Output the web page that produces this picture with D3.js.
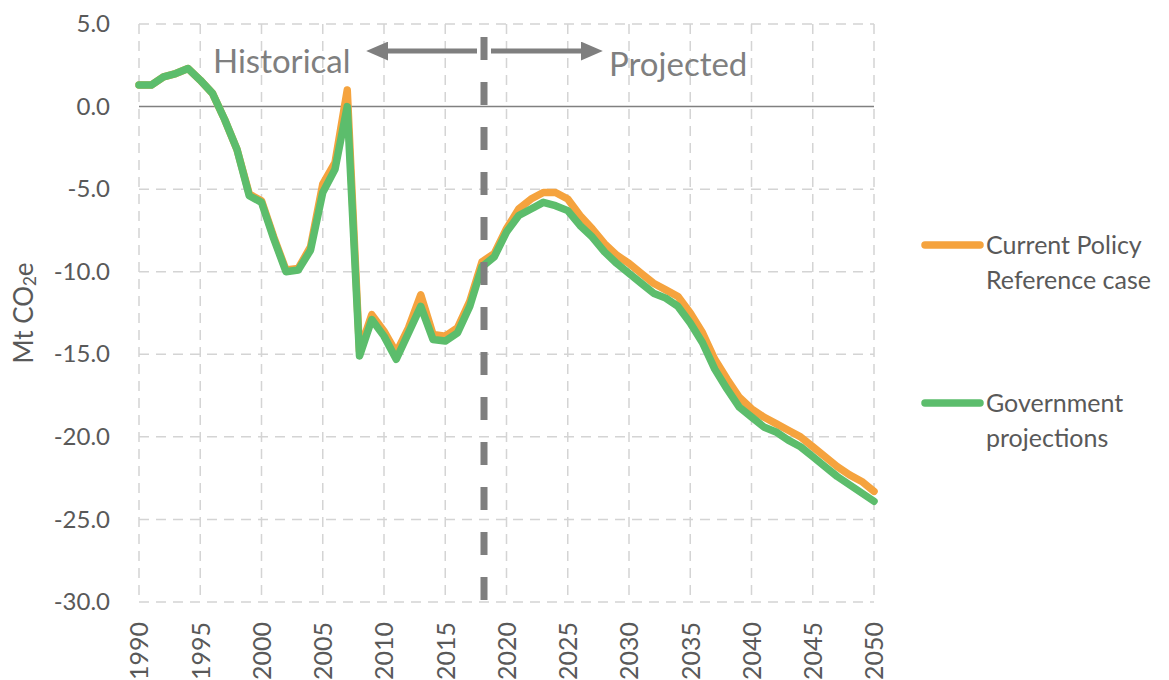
<!DOCTYPE html>
<html>
<head>
<meta charset="utf-8">
<script src="https://cdn.jsdelivr.net/npm/d3@7"></script>
<style>
  body { margin: 0; background: #ffffff; }
  svg { font-family: Lato, 'Open Sans', sans-serif; }
</style>
</head>
<body>
<svg id="canvas"></svg>
<script>

// Years on the x axis.
var years = [
  1990, 1991, 1992, 1993, 1994, 1995, 1996, 1997, 1998, 1999,
  2000, 2001, 2002, 2003, 2004, 2005, 2006, 2007, 2008, 2009,
  2010, 2011, 2012, 2013, 2014, 2015, 2016, 2017, 2018, 2019,
  2020, 2021, 2022, 2023, 2024, 2025, 2026, 2027, 2028, 2029,
  2030, 2031, 2032, 2033, 2034, 2035, 2036, 2037, 2038, 2039,
  2040, 2041, 2042, 2043, 2044, 2045, 2046, 2047, 2048, 2049,
  2050
];

// Current Policy Reference case (Mt CO2e).
var currentPolicy = [
  1.3, 1.3, 1.8, 2.0, 2.3, 1.6, 0.8, -0.8, -2.6, -5.3,
  -5.7, -7.9, -9.9, -9.8, -8.5, -4.7, -3.4, 1.0, -14.8, -12.6,
  -13.6, -14.9, -13.4, -11.4, -13.8, -13.9, -13.4, -11.8, -9.4, -8.9,
  -7.4, -6.2, -5.6, -5.2, -5.2, -5.6, -6.6, -7.4, -8.3, -9.0,
  -9.5, -10.1, -10.7, -11.1, -11.5, -12.5, -13.7, -15.3, -16.5, -17.6,
  -18.3, -18.8, -19.2, -19.6, -20.0, -20.6, -21.2, -21.8, -22.3, -22.7,
  -23.3
];

// Government projections (Mt CO2e).
var governmentProj = [
  1.3, 1.3, 1.8, 2.0, 2.3, 1.6, 0.8, -0.8, -2.6, -5.4,
  -5.8, -8.0, -10.0, -9.9, -8.7, -5.2, -3.8, 0.0, -15.1, -12.9,
  -13.9, -15.3, -13.7, -12.1, -14.1, -14.2, -13.7, -12.1, -9.7, -9.1,
  -7.6, -6.6, -6.2, -5.8, -6.0, -6.3, -7.2, -7.9, -8.8, -9.5,
  -10.1, -10.7, -11.3, -11.6, -12.1, -13.1, -14.3, -15.9, -17.1, -18.2,
  -18.8, -19.4, -19.7, -20.2, -20.6, -21.2, -21.8, -22.4, -22.9, -23.4,
  -23.9
];

// Axis ticks.
var xTicks = [1990, 1995, 2000, 2005, 2010, 2015, 2020, 2025, 2030, 2035, 2040, 2045, 2050];
var yTicks = [5, 0, -5, -10, -15, -20, -25, -30];

// Series names and legend labels.
var seriesNames = ['Current Policy Reference case', 'Government projections'];
var legendLines = [['Current Policy', 'Reference case'], ['Government', 'projections']];

// Year splitting historical and projected data.
var splitYear = 2018;

// Canvas and graph settings.
var canvas = {
  dim: { w: 1169, h: 680 },
  plot: { left: 139, right: 874, top: 24, bottom: 602 },
  colours: {
    orange: '#F5A33E',
    green: '#5CBD6C',
    grid: '#D4D4D4',
    axis: '#808080',
    text: '#595959',
    note: '#7F7F7F'
  }
};

// SVG canvas.
var svg = d3.select('#canvas')
            .attr('width', canvas.dim.w)
            .attr('height', canvas.dim.h);

// Scales.
var x = d3.scaleLinear()
          .domain([1990, 2050])
          .range([canvas.plot.left, canvas.plot.right]);

var y = d3.scaleLinear()
          .domain([-30, 5])
          .range([canvas.plot.bottom, canvas.plot.top]);

// Tick format with a plain hyphen for negatives.
var fmt = function(d) {
  return d3.format('.1f')(d).replace('\u2212', '-');
};

// Horizontal grid lines.
svg.append('g')
   .selectAll('line')
   .data(yTicks.filter(function(d) { return d !== 0; }))
   .enter()
   .append('line')
   .attr('x1', x(1990))
   .attr('x2', x(2050))
   .attr('y1', function(d) { return y(d); })
   .attr('y2', function(d) { return y(d); })
   .attr('stroke', canvas.colours.grid)
   .attr('stroke-width', 1.5)
   .attr('stroke-dasharray', '10,7');

// Vertical grid lines.
svg.append('g')
   .selectAll('line')
   .data(xTicks)
   .enter()
   .append('line')
   .attr('x1', function(d) { return x(d); })
   .attr('x2', function(d) { return x(d); })
   .attr('y1', y(5))
   .attr('y2', y(-30))
   .attr('stroke', canvas.colours.grid)
   .attr('stroke-width', 1.5)
   .attr('stroke-dasharray', '10,7');

// Zero line.
svg.append('line')
   .attr('x1', x(1990))
   .attr('x2', x(2050))
   .attr('y1', y(0))
   .attr('y2', y(0))
   .attr('stroke', canvas.colours.axis)
   .attr('stroke-width', 1.5);

// Y axis labels.
var yAxis = d3.axisLeft(y)
              .tickValues(yTicks)
              .tickSize(0)
              .tickPadding(29)
              .tickFormat(fmt);

var yAxisG = svg.append('g')
                .attr('transform', 'translate(' + canvas.plot.left + ',0)')
                .call(yAxis);

yAxisG.select('.domain').remove();
yAxisG.selectAll('text')
      .attr('font-family', 'Lato, sans-serif')
      .attr('font-size', 24)
      .attr('fill', canvas.colours.text);

// X axis labels (rotated).
var xAxis = d3.axisBottom(x)
              .tickValues(xTicks)
              .tickSize(0)
              .tickFormat(d3.format('d'));

var xAxisG = svg.append('g')
                .attr('transform', 'translate(0,' + canvas.plot.bottom + ')')
                .call(xAxis);

xAxisG.select('.domain').remove();
xAxisG.selectAll('text')
      .attr('font-family', 'Lato, sans-serif')
      .attr('font-size', 25)
      .attr('fill', canvas.colours.text)
      .attr('transform', 'rotate(-90)')
      .attr('x', -20)
      .attr('y', 0)
      .attr('dy', '0.35em')
      .attr('text-anchor', 'end');

// Y axis title.
var yTitle = svg.append('text')
                .attr('transform', 'translate(33,' + 313 + ') rotate(-90)')
                .attr('text-anchor', 'middle')
                .attr('font-size', 26)
                .attr('fill', canvas.colours.text);

yTitle.append('tspan').text('Mt CO');
yTitle.append('tspan').attr('font-size', 17).attr('dy', 3).text('2');
yTitle.append('tspan').attr('dy', -3).text('e');

// Line generator.
var line = d3.line()
             .x(function(d) { return x(d.year); })
             .y(function(d) { return y(d.value); });

// Build the series table.
var series = [
  { name: seriesNames[0], colour: canvas.colours.orange, values: currentPolicy },
  { name: seriesNames[1], colour: canvas.colours.green, values: governmentProj }
];

// Paint series lines.
svg.append('g')
   .selectAll('path')
   .data(series)
   .enter()
   .append('path')
   .attr('d', function(s) {
     return line(years.map(function(yr, i) {
       return { year: yr, value: s.values[i] };
     }));
   })
   .attr('fill', 'none')
   .attr('stroke', function(s) { return s.colour; })
   .attr('stroke-width', 7.5)
   .attr('stroke-linejoin', 'round')
   .attr('stroke-linecap', 'round');

// Historical / projected divider.
svg.append('line')
   .attr('x1', x(splitYear) + 2)
   .attr('x2', x(splitYear) + 2)
   .attr('y1', 37)
   .attr('y2', canvas.plot.bottom)
   .attr('stroke', canvas.colours.note)
   .attr('stroke-width', 7)
   .attr('stroke-dasharray', '23,22');

// Arrow head marker.
svg.append('defs')
   .append('marker')
   .attr('id', 'arrow')
   .attr('viewBox', '0 0 10 10')
   .attr('preserveAspectRatio', 'none')
   .attr('refX', 1)
   .attr('refY', 5)
   .attr('markerWidth', 4.4)
   .attr('markerHeight', 3.8)
   .attr('markerUnits', 'strokeWidth')
   .attr('orient', 'auto')
   .append('path')
   .attr('d', 'M0,0 L10,5 L0,10 Z')
   .attr('fill', canvas.colours.note);

// Historical arrow.
svg.append('line')
   .attr('x1', x(splitYear) - 5)
   .attr('x2', 386)
   .attr('y1', 51)
   .attr('y2', 51)
   .attr('stroke', canvas.colours.note)
   .attr('stroke-width', 5)
   .attr('marker-end', 'url(#arrow)');

// Projected arrow.
svg.append('line')
   .attr('x1', x(splitYear) + 9)
   .attr('x2', 583)
   .attr('y1', 51)
   .attr('y2', 51)
   .attr('stroke', canvas.colours.note)
   .attr('stroke-width', 5)
   .attr('marker-end', 'url(#arrow)');

// Labels next to the arrows.
svg.append('text')
   .attr('x', 213)
   .attr('y', 73)
   .attr('font-size', 33)
   .attr('fill', canvas.colours.note)
   .text('Historical');

svg.append('text')
   .attr('x', 609)
   .attr('y', 76)
   .attr('font-size', 33)
   .attr('fill', canvas.colours.note)
   .text('Projected');

// Legend.
var legendY = [245, 403];

var legend = svg.append('g')
                .selectAll('g')
                .data(series)
                .enter()
                .append('g')
                .attr('transform', function(s, i) {
                  return 'translate(925,' + legendY[i] + ')';
                });

legend.append('line')
      .attr('x1', 0)
      .attr('x2', 55)
      .attr('stroke', function(s) { return s.colour; })
      .attr('stroke-width', 7.5)
      .attr('stroke-linecap', 'round');

legend.each(function(s, i) {
  var t = d3.select(this)
            .append('text')
            .attr('x', 61)
            .attr('y', 9)
            .attr('font-size', 25)
            .attr('fill', canvas.colours.text);

  legendLines[i].forEach(function(txt, j) {
    t.append('tspan')
     .attr('x', 61)
     .attr('dy', j === 0 ? 0 : 35)
     .text(txt);
  });
});

</script>
</body>
</html>
